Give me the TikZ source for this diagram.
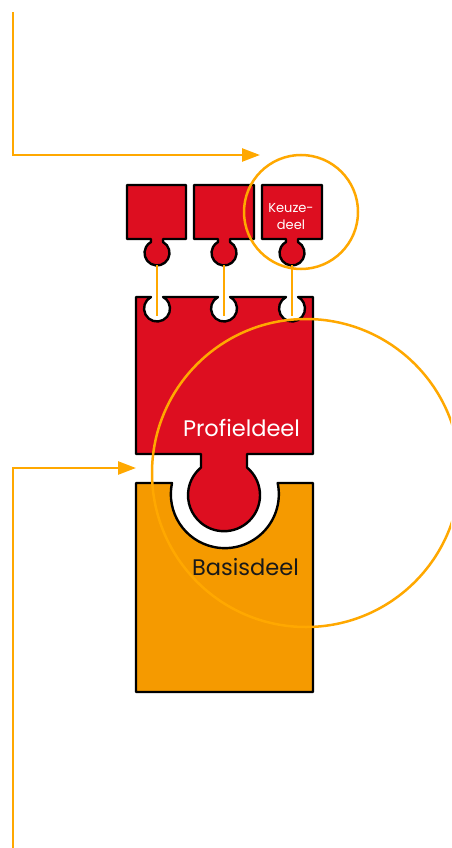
\documentclass[tikz,border=0pt]{standalone}
\usepackage{fontspec}
\setmainfont{Poppins}
\usetikzlibrary{arrows.meta}

\definecolor{piecered}{RGB}{221,14,32}
\definecolor{basisorange}{RGB}{245,154,0}
\definecolor{lineorange}{RGB}{255,168,0}

\begin{document}
\begin{tikzpicture}[x=1pt,y=-1pt,
    piece/.style ={fill=piecered, draw=black, line width=2.4pt, line join=round},
    basis/.style ={fill=basisorange, draw=black, line width=2.4pt, line join=round},
    link/.style ={draw=lineorange, line width=2.5pt},
    pointer/.style ={draw=lineorange, line width=2.5pt, -{Triangle[length=18pt,width=13pt]}},
    ring/.style ={draw=lineorange, line width=2.5pt},
    label/.style ={font=\fontsize{22.5}{26}\selectfont, inner sep=0pt}]
   \useasboundingbox (0,0) rectangle (451,848);
   \clip (0,0) rectangle (451,848);

   % small pieces
   \path[piece] (127,185) -- (186,185) -- (186,239) -- (163,239) -- (163,242)
      arc[start angle=-61.4, end angle=241.4, radius=12.5] -- (151,239) -- (127,239) -- cycle;
   \path[piece] (194,185) -- (254,185) -- (254,239) -- (230,239) -- (230,242)
      arc[start angle=-61.4, end angle=241.4, radius=12.5] -- (218,239) -- (194,239) -- cycle;
   \path[piece] (262,185) -- (322,185) -- (322,239) -- (298,239) -- (298,242)
      arc[start angle=-61.4, end angle=241.4, radius=12.5] -- (286,239) -- (262,239) -- cycle;
   \node[text=white, font=\fontsize{13}{17}\selectfont, align=center, inner sep=0pt]
      (keuze) at (291,217) {Keuze-\\deel};

   % Profieldeel
   \path[piece] (136,297) -- (151,297) arc[start angle=242.4, end angle=-62.4, radius=13]
      -- (218,297) arc[start angle=242.4, end angle=-62.4, radius=13]
      -- (286,297) arc[start angle=242.4, end angle=-62.4, radius=13]
      -- (313,297) -- (313,454) -- (247,454) -- (247,467.5)
      arc[start angle=-50.3, end angle=230.3, radius=36]
      -- (201,454) -- (136,454) -- cycle;
   \node[label, text=white] (profiel) at (241.5,428) {Profieldeel};

   % Basisdeel
   \path[basis] (136,483) -- (172,483) arc[start angle=191.9, end angle=-11.9, radius=54]
      -- (313,483) -- (313,692) -- (136,692) -- cycle;
   \node[label, text=black!90] (basis) at (245.5,567) {Basisdeel};

   % links between knobs and sockets
   \coordinate (k1) at (157,265);
   \coordinate (k2) at (224,265);
   \coordinate (k3) at (292,265);
   \coordinate (s1) at (157,316);
   \coordinate (s2) at (224,316);
   \coordinate (s3) at (292,316);
   \draw[link] (k1) -- (s1);
   \draw[link] (k2) -- (s2);
   \draw[link] (k3) -- (s3);

   % pointers
   \coordinate (top) at (13,12);
   \coordinate (topend) at (260,155);
   \coordinate (low) at (13,850);
   \coordinate (lowend) at (136,468);
   \draw[pointer] (top) |- (topend);
   \draw[pointer] (low) |- (lowend);

   % rings
   \draw[ring] (301,212) circle[radius=57];
   \draw[ring] (306,473) circle[radius=154];
 \end{tikzpicture}
\end{document}
